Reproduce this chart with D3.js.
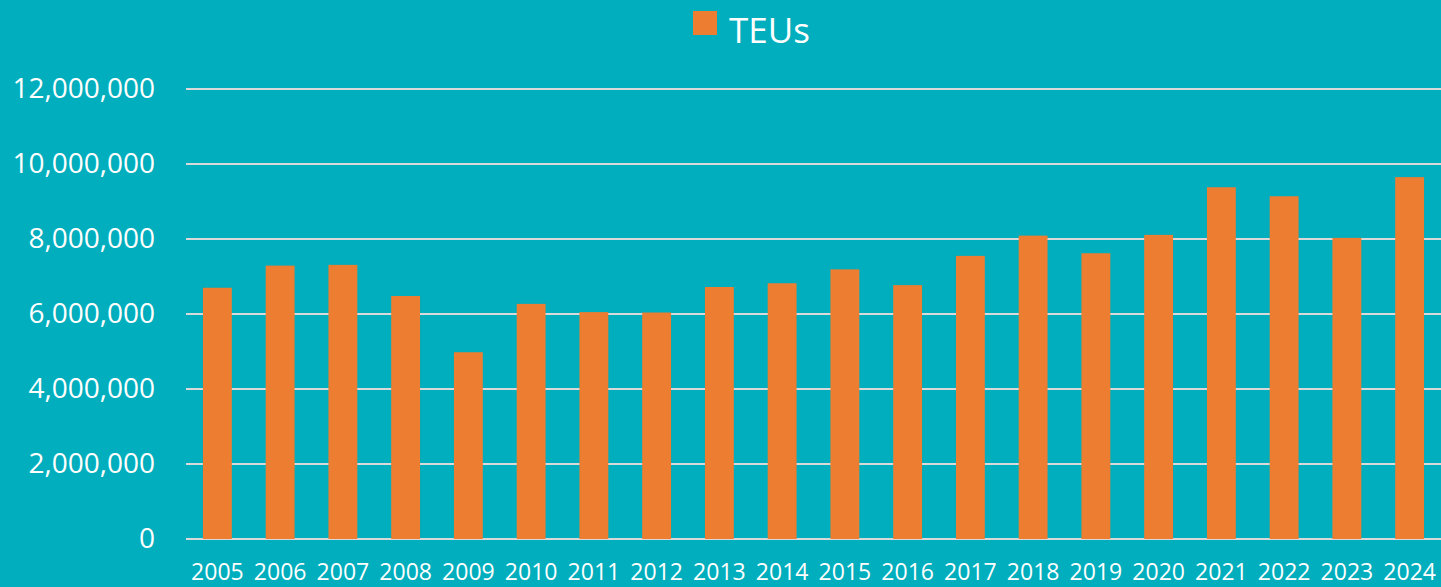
<!DOCTYPE html>
<html>
<head>
<meta charset="utf-8">
<script src="https://cdn.jsdelivr.net/npm/d3@7"></script>
<style>
  html, body { margin: 0; padding: 0; background: #00AEBD; }
  svg { display: block; font-family: "Open Sans", sans-serif; }
</style>
</head>
<body>
<div id="chart"></div>
<script>
// --- data
const years = ['2005','2006','2007','2008','2009','2010','2011','2012','2013','2014',
               '2015','2016','2017','2018','2019','2020','2021','2022','2023','2024'];
const teus = [6700000, 7290000, 7310000, 6480000, 4980000, 6270000, 6050000, 6040000, 6720000, 6820000,
              7190000, 6770000, 7550000, 8090000, 7620000, 8110000, 9380000, 9140000, 8030000, 9650000];
const yTicks = [0, 2000000, 4000000, 6000000, 8000000, 10000000, 12000000];
const seriesName = 'TEUs';

const width = 1441, height = 587;
const margin = { top: 89, right: 0, bottom: 48, left: 186 };

const svg = d3.select('#chart')
  .append('svg')
  .attr('width', width)
  .attr('height', height);

svg.append('rect')
  .attr('width', width)
  .attr('height', height)
  .attr('fill', '#00AEBD');

const x = d3.scaleBand()
  .domain(years)
  .range([margin.left, width - margin.right])
  .paddingInner(0.54)
  .paddingOuter(0.27);

const y = d3.scaleLinear()
  .domain([0, 12000000])
  .range([height - margin.bottom, margin.top]);

// gridlines
svg.append('g')
  .selectAll('line')
  .data(yTicks)
  .enter()
  .append('line')
  .attr('x1', margin.left)
  .attr('x2', width - margin.right)
  .attr('y1', d => Math.round(y(d)))
  .attr('y2', d => Math.round(y(d)))
  .attr('stroke', '#D9D9D9')
  .attr('stroke-width', 2);

// bars
svg.append('g')
  .selectAll('rect')
  .data(teus)
  .enter()
  .append('rect')
  .attr('x', (d, i) => x(years[i]))
  .attr('width', x.bandwidth())
  .attr('y', d => y(d))
  .attr('height', d => y(0) - y(d))
  .attr('fill', '#ED7D31');

// y axis
const yAxis = svg.append('g')
  .attr('transform', `translate(${margin.left - 31},0)`)
  .call(d3.axisLeft(y).tickValues(yTicks).tickFormat(d3.format(',')).tickSize(0));
yAxis.select('.domain').remove();
yAxis.selectAll('text')
  .attr('x', 0)
  .attr('fill', '#FFFFFF')
  .style('font-size', '28px')
  .style('font-family', '"Open Sans", sans-serif');

// x axis
const xAxis = svg.append('g')
  .attr('transform', `translate(0,${height - margin.bottom})`)
  .call(d3.axisBottom(x).tickSize(0));
xAxis.select('.domain').remove();
xAxis.selectAll('text')
  .attr('y', 0)
  .attr('dy', 41)
  .attr('fill', '#FFFFFF')
  .style('font-size', '23px')
  .style('font-family', '"Open Sans", sans-serif');

// legend
const legend = svg.append('g').attr('transform', 'translate(693,11)');
legend.append('rect')
  .attr('width', 24)
  .attr('height', 24)
  .attr('fill', '#ED7D31');
legend.append('text')
  .attr('x', 36)
  .attr('y', 23)
  .attr('fill', '#FFFFFF')
  .style('font-size', '35px')
  .style('dominant-baseline', 'middle')
  .text(seriesName);
</script>
</body>
</html>
